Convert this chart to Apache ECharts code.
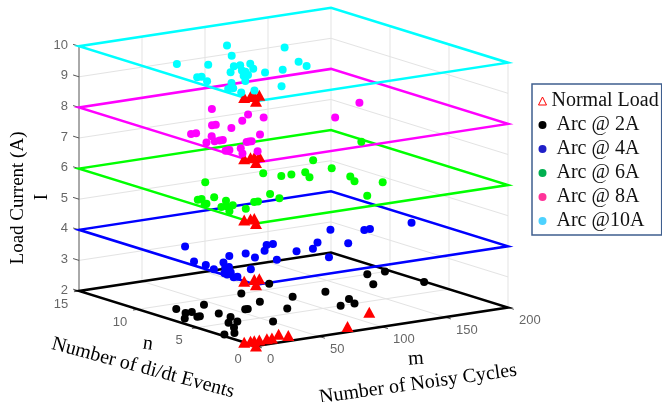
<!DOCTYPE html>
<html><head><meta charset="utf-8">
<style>html,body{margin:0;padding:0;background:#fff}#c{width:662px;height:402px}</style>
<script src="https://cdn.jsdelivr.net/npm/echarts@6/dist/echarts.min.js"></script>
</head><body><div id="c"></div>
<script>
// Data: [m, n] pairs, one list per load current
const arc2 = [[113.5,11],[82,10],[78,8],[21,9],[43,9],[24,8],[19,8],[36,7],[57,7],[59,7],[81,6],[9,7],[19,7],[21,7],[36,6],[32,5],[25,5],[51,4],[20,4],[3,3],[11,3],[104,8],[130,8],[130,6],[125,5],[114,5],[182,10],[196,10],[168,8],[199,7]];
const arc4 = [[28,9],[74,7],[79,7],[63,6],[48,6],[46,5],[35,6],[54,4],[7,6],[7,5],[21,5],[134,8],[151.5,7],[156,7],[189,7],[120,5],[105,6],[92,5],[79,5],[86,3],[4,4],[24,3],[13,4],[16,4],[3,3],[8,3],[2.4,2.7],[1,2],[4,2]];
const arc6 = [[90,9],[95,8],[103,8],[114,8],[108,7],[139,10],[135,8],[131,6],[125,5],[138,4],[107,2],[196,12],[56,4],[44,9],[23,6],[13,6],[10,6],[7.5,5],[6,5],[23,5],[19,4],[10,4],[7,3],[14,4],[20,3],[36,4],[39,4],[58,5]];
const arc8 = [[68,11],[43,8],[40,8],[46,7],[64,8],[78,9],[81,8],[50,5],[14,7],[18,7],[21,6],[157,8],[119,6],[14,5],[7.5,5],[18,5],[20.5,5],[30,4],[32,4],[34,4],[6,3],[7,3],[4,3],[16,3],[8,2],[20,2]];
const arc10 = [[21.5,9],[80,11],[65,9],[37,8],[48,7],[53,7],[61,7],[54,6],[36,6],[45,6],[45,5.7],[40.5,5],[29,4],[37,5],[54,5],[68,5],[107,9],[39,2],[9.5,6],[13,6],[8,5],[18,4],[10,3],[6,3],[7,2],[17.5,2],[90,6],[87,5]];
const normal2 = [[0,0],[0,1],[5,1],[8,1],[12,1],[18,1],[22,1],[32,1.5],[35,1],[82,1],[118,3]];
const normal4 = [[0,0],[0,1],[8,1],[12,1]];
const normal6 = [[0,0],[0,1],[5,1],[8,1]];
const normal8 = [[0,0],[0,1],[5,1],[8,1],[12,1]];
const normal10 = [[0,0],[0,1],[5,1],[8,1],[12,1]];
const mTicks = [0,50,100,150,200];
const nTicks = [0,5,10,15];
const iTicks = [2,3,4,5,6,7,8,9,10];
const levels = [2,4,6,8,10];
const levelColors = ['#000000','#0000ff','#00ff00','#ff00ff','#00ffff'];

// Orthographic view of the 3-D axes box
const O = [256,346];
function P(m,n,i){
  return [O[0] + 1.26*m - 11.8*n, O[1] - 0.1925*m - 3.667*n - 30.6*(i-2)];
}
const GAP = ['-','-'];
const gridPts = [];
function seg(arr,a,b){ arr.push(a,b,GAP); }
const mMax=200,nMax=15,iMin=2,iMax=10;
iTicks.forEach(i=>{ if(i>iMin&&i<iMax){
  seg(gridPts,P(0,nMax,i),P(mMax,nMax,i));
  seg(gridPts,P(mMax,nMax,i),P(mMax,0,i));
}});
mTicks.forEach(m=>{
  if(m>0) seg(gridPts,P(m,nMax,iMin),P(m,nMax,iMax));
  if(m>0&&m<mMax) seg(gridPts,P(m,0,iMin),P(m,nMax,iMin));
});
nTicks.forEach(n=>{
  if(n<nMax) seg(gridPts,P(mMax,n,iMin),P(mMax,n,iMax));
  if(n>0&&n<nMax) seg(gridPts,P(0,n,iMin),P(mMax,n,iMin));
});
const axisPts = [];
seg(axisPts,P(0,nMax,iMin),P(0,nMax,iMax));
iTicks.forEach(i=>seg(axisPts,P(0,nMax,i),P(0,nMax+0.5,i)));
mTicks.forEach(m=>seg(axisPts,P(m,0,iMin),P(m,-0.5,iMin)));
nTicks.forEach(n=>seg(axisPts,P(0,n,iMin),P(-4,n,iMin)));

const series = [];
series.push({type:'line',name:'grid',data:gridPts,symbol:'none',silent:true,z:1,lineStyle:{color:'#e3e3e3',width:1}});
series.push({type:'line',name:'axes',data:axisPts,symbol:'none',silent:true,z:2,lineStyle:{color:'#555555',width:1}});
levels.forEach((lv,k)=>{
  series.push({type:'line',name:'plane'+lv,symbol:'none',silent:true,z:3,
    data:[P(0,0,lv),P(mMax,0,lv),P(mMax,nMax,lv),P(0,nMax,lv),P(0,0,lv)],
    lineStyle:{color:levelColors[k],width:2.5,join:'miter'}});
});
const normalAll = [];
[normal2,normal4,normal6,normal8,normal10].forEach((l,k)=>l.forEach(d=>normalAll.push(P(d[0],d[1],levels[k]))));
series.push({type:'scatter',name:'Normal Load',data:normalAll,symbol:'triangle',symbolSize:[12,11],z:5,itemStyle:{color:'#ff0000',opacity:1}});
const names=[' Arc @ 2A',' Arc @ 4A',' Arc @ 6A',' Arc @ 8A',' Arc @10A'];
[arc2,arc4,arc6,arc8,arc10].forEach((l,k)=>{
  series.push({type:'scatter',name:names[k],data:l.map(d=>P(d[0],d[1],levels[k])),symbol:'circle',symbolSize:8,z:6,itemStyle:{color:levelColors[k],opacity:1}});
});
function labels(name,pts,texts,dx,dy,align){
  series.push({type:'scatter',name:name,data:pts.map((p,j)=>({value:[p[0]+dx,p[1]+dy],txt:String(texts[j])})),
    symbolSize:1,itemStyle:{color:'rgba(0,0,0,0)'},silent:true,z:7,
    label:{show:true,position:'inside',formatter:o=>o.data.txt,color:'#404040',fontSize:13,fontFamily:'"Liberation Sans",Arial,sans-serif',align:align,verticalAlign:'middle'}});
}
labels('iLabels',iTicks.map(i=>P(0,nMax,i)),iTicks,-11,-1,'right');
labels('nLabels',nTicks.map(n=>P(0,n,iMin)),nTicks,-18,13,'center');
labels('mLabels',mTicks.map(m=>P(m,0,iMin)),mTicks,11,13,'left');

const serif='"Liberation Serif","Times New Roman",serif';
function title(t,x,y,deg,size){
  return {type:'text',x:x,y:y,rotation:deg*Math.PI/180,z:10,
    style:{text:t,fill:'#000',font:size+'px '+serif,textAlign:'center',textVerticalAlign:'middle'}};
}
const chart = echarts.init(document.getElementById('c'),null,{renderer:'canvas'});
chart.setOption({
  animation:false,
  backgroundColor:'#fff',
  grid:{left:0,top:0,right:0,bottom:0,containLabel:false},
  xAxis:{type:'value',min:0,max:662,show:false},
  yAxis:{type:'value',min:0,max:402,inverse:true,show:false},
  legend:{
    left:532,top:84,orient:'vertical',selectedMode:false,
    padding:[6,3,3,6],itemGap:2,itemWidth:8,itemHeight:8,
    borderColor:'#3f5f8f',borderWidth:1.5,backgroundColor:'#fff',
    textStyle:{fontFamily:serif,fontSize:20,color:'#111',lineHeight:22},
    data:[
      {name:'Normal Load',icon:'triangle',itemStyle:{color:'#fff',borderColor:'#ff0000',borderWidth:1}},
      {name:' Arc @ 2A',icon:'circle',itemStyle:{color:'#000000'}},
      {name:' Arc @ 4A',icon:'circle',itemStyle:{color:'#1f1fc8'}},
      {name:' Arc @ 6A',icon:'circle',itemStyle:{color:'#00b050'}},
      {name:' Arc @ 8A',icon:'circle',itemStyle:{color:'#ff3399'}},
      {name:' Arc @10A',icon:'circle',itemStyle:{color:'#4dd2ff'}}
    ]
  },
  graphic:[
    title('Load Current (A)',18,198,90,19),
    title('I',42,197,90,19),
    title('n',148,344,-8,20),
    title('Number of di/dt Events',143,368,-15,20),
    title('m',416,359,4,20),
    title('Number of Noisy Cycles',418,384,8,20)
  ],
  series:series
});
</script></body></html>
